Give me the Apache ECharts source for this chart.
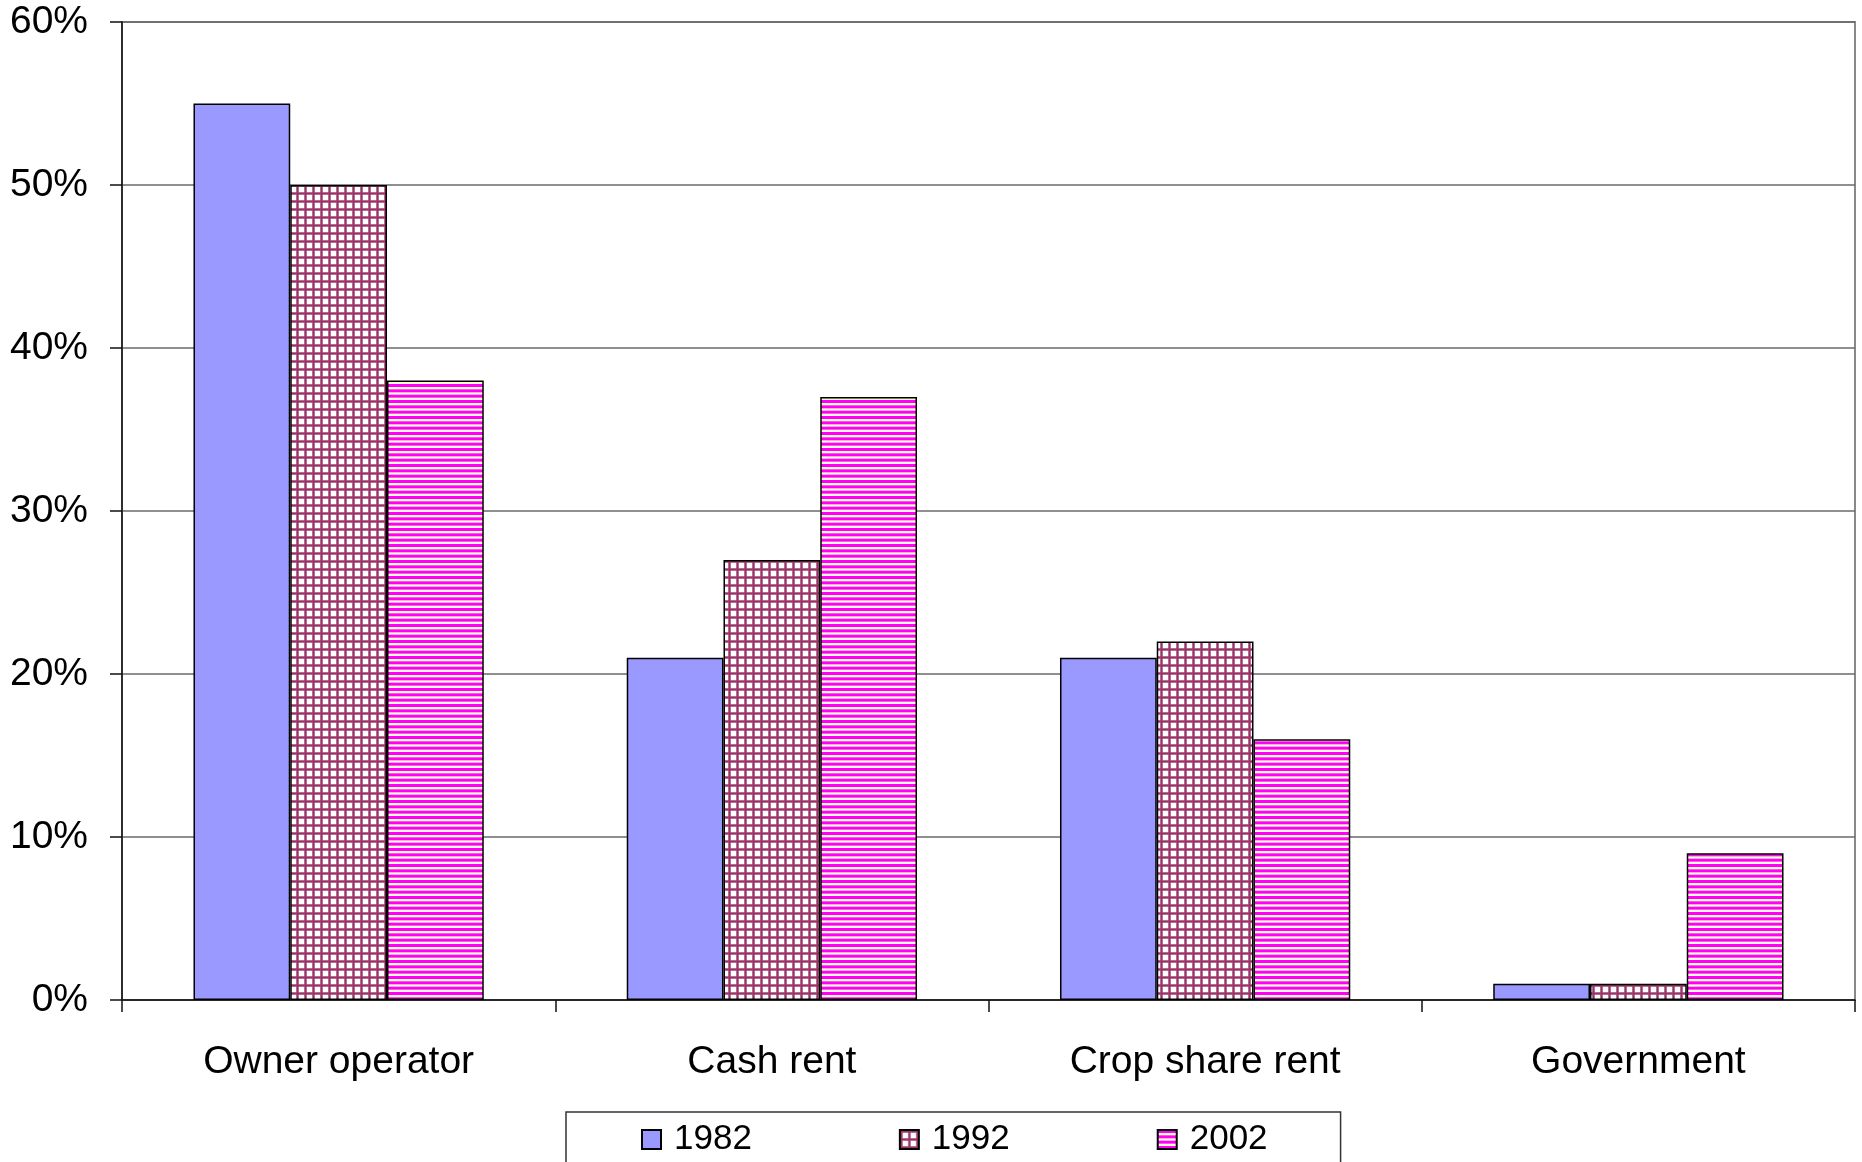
<!DOCTYPE html>
<html>
<head>
<meta charset="utf-8">
<script src="https://cdn.jsdelivr.net/npm/echarts@6/dist/echarts.min.js"></script>
<style>
html,body{margin:0;padding:0;background:#fff;}
#chart{width:1862px;height:1162px;}
</style>
</head>
<body>
<div id="chart"></div>
<script>
var categories = ['Owner operator', 'Cash rent', 'Crop share rent', 'Government'];
var seriesNames = ['1982', '1992', '2002'];
var values1982 = [55, 21, 21, 1];
var values1992 = [50, 27, 22, 1];
var values2002 = [38, 37, 16, 9];
var yTicks = [0, 10, 20, 30, 40, 50, 60];

function gridPattern() {
  var c = document.createElement('canvas');
  c.width = 8; c.height = 8;
  var g = c.getContext('2d');
  g.fillStyle = '#ffffff'; g.fillRect(0, 0, 8, 8);
  g.fillStyle = '#d7a9c2';
  g.fillRect(0, 0, 3, 8); g.fillRect(0, 0, 8, 3);
  g.fillStyle = '#993366';
  g.fillRect(0.5, 0, 2, 8); g.fillRect(0, 0.5, 8, 2);
  return c;
}
function stripePattern() {
  var c = document.createElement('canvas');
  c.width = 8; c.height = 16;
  var g = c.getContext('2d');
  g.fillStyle = '#ffffcc'; g.fillRect(0, 0, 8, 16);
  g.fillStyle = '#ff00ff';
  for (var i = 0; i < 3; i++) {
    g.fillRect(0, i * 16 / 3, 8, 3);
  }
  return c;
}

var chart = echarts.init(document.getElementById('chart'), null, {renderer: 'canvas'});
var font = 'Liberation Sans, Arial, sans-serif';
var barStyle = function (color) {
  return {color: color, borderColor: '#000', borderWidth: 1.5};
};
chart.setOption({
  animation: false,
  backgroundColor: '#fff',
  grid: {left: 122, right: 7, top: 22, bottom: 162, show: true, borderColor: '#888', borderWidth: 2, backgroundColor: 'transparent'},
  legend: {
    data: seriesNames,
    left: 566, top: 1112,
    padding: [10, 73, 30, 75],
    itemWidth: 19, itemHeight: 19, itemGap: 147,
    borderColor: '#333', borderWidth: 1.5,
    icon: 'rect',
    textStyle: {fontFamily: font, fontSize: 35, color: '#000', padding: [0, 0, 0, 8]}
  },
  xAxis: {
    type: 'category',
    data: categories,
    axisLine: {lineStyle: {color: '#111', width: 1.5}},
    axisTick: {show: true, length: 12, lineStyle: {color: '#111', width: 1.5}},
    axisLabel: {fontFamily: font, fontSize: 39, color: '#000', margin: 43},
    splitLine: {show: false}
  },
  yAxis: {
    type: 'value',
    min: 0, max: 60, interval: 10,
    axisLine: {show: true, lineStyle: {color: '#111', width: 1.5}},
    axisTick: {show: true, length: 12, lineStyle: {color: '#111', width: 1.5}},
    axisLabel: {fontFamily: font, fontSize: 39, color: '#000', margin: 34,
      formatter: function (v) { return yTicks.indexOf(v) >= 0 ? v + '%' : ''; }},
    splitLine: {show: true, lineStyle: {color: '#6a6a6a', width: 1.5}}
  },
  series: [
    {name: seriesNames[0], type: 'bar', data: values1982, barGap: '0%', barCategoryGap: '33%',
      itemStyle: barStyle('#9999ff')},
    {name: seriesNames[1], type: 'bar', data: values1992, barGap: '0%', barCategoryGap: '33%',
      itemStyle: barStyle({image: gridPattern(), repeat: 'repeat'})},
    {name: seriesNames[2], type: 'bar', data: values2002, barGap: '0%', barCategoryGap: '33%',
      itemStyle: barStyle({image: stripePattern(), repeat: 'repeat'})}
  ]
});
</script>
</body>
</html>
